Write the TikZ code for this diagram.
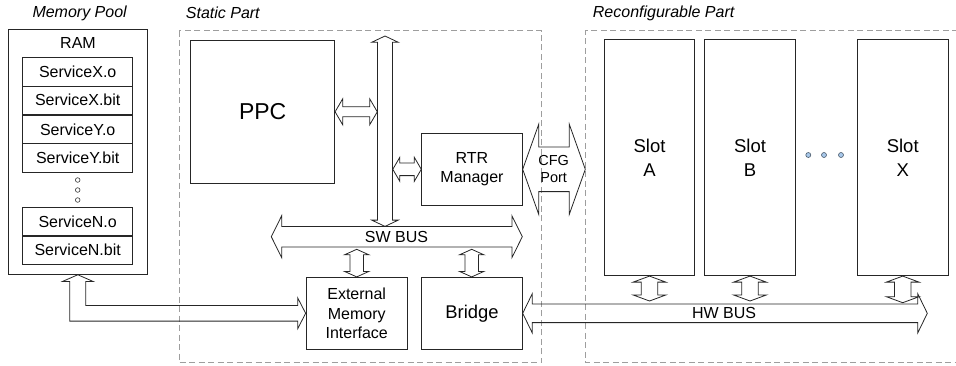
\documentclass[tikz,border=0pt]{standalone}
\usepackage{fontspec}
\setmainfont{Liberation Sans}
\usetikzlibrary{calc}

\definecolor{dotblue}{HTML}{A8C8EA}
\definecolor{dotedge}{HTML}{4A5A6A}

% fat double-headed bus arrows: from, to, half shaft, half head, head length
\newcommand{\hbus}[5]{%
  \draw[bus] let \p1=(#1), \p2=(#2) in
    (\x1,\y1) -- (\x1+#5,\y1+#4) -- (\x1+#5,\y1+#3) -- (\x2-#5,\y1+#3)
    -- (\x2-#5,\y1+#4) -- (\x2,\y1) -- (\x2-#5,\y1-#4) -- (\x2-#5,\y1-#3)
    -- (\x1+#5,\y1-#3) -- (\x1+#5,\y1-#4) -- cycle;}
\newcommand{\vbus}[5]{%
  \draw[bus] let \p1=(#1), \p2=(#2) in
    (\x1,\y1) -- (\x1+#4,\y1-#5) -- (\x1+#3,\y1-#5) -- (\x1+#3,\y2+#5)
    -- (\x1+#4,\y2+#5) -- (\x1,\y2) -- (\x1-#4,\y2+#5) -- (\x1-#3,\y2+#5)
    -- (\x1-#3,\y1-#5) -- (\x1-#4,\y1-#5) -- cycle;}

\begin{document}
\begin{tikzpicture}[x=1pt,y=-1pt,
  every node/.style={align=center,inner sep=0pt,font=\fontsize{16}{19}\selectfont},
  box/.style={draw=black!85,line width=0.8pt},
  row/.style={box,minimum width=110pt,minimum height=28.4pt},
  slot/.style={box,minimum width=90.6pt,minimum height=236.4pt,font=\fontsize{18.5}{23.6}\selectfont},
  part/.style={draw=black!38,line width=0.8pt,dash pattern=on 6pt off 3.5pt},
  partlabel/.style={anchor=west,font=\fontsize{16}{19}\selectfont\itshape},
  bus/.style={draw=black!85,line width=0.8pt},
  ramdot/.style={circle,draw=black!80,fill=white,line width=0.6pt,minimum size=4.6pt},
  slotdot/.style={circle,draw=dotedge,fill=dotblue,line width=0.6pt,minimum size=5pt}]

\useasboundingbox (0,0) rectangle (956,365);

% Part labels and dashed regions
\node[partlabel] (poolLabel) at (32.3,13) {Memory Pool};
\node[partlabel] (staticLabel) at (185.7,13) {Static Part};
\node[partlabel] (reconfLabel) at (592.7,13) {Reconfigurable Part};
\draw[part] (179,30.7) rectangle (541.7,362.7);
\draw[part] (958,30.7) -| (585.7,362.7) -- (958,362.7);

% Memory pool
\node[box,minimum width=139pt,minimum height=245.3pt] (memoryPool) at (77.8,151.7) {};
\node (ram) at (78,43.3) {RAM};
\node[row] (serviceXo) at (77.7,71.8) {ServiceX.o};
\node[row] (serviceXbit) at (77.7,100.1) {ServiceX.bit};
\node[row] (serviceYo) at (77.7,129.5) {ServiceY.o};
\node[row] (serviceYbit) at (77.7,157.8) {ServiceY.bit};
\node[row] (serviceNo) at (77.7,221.8) {ServiceN.o};
\node[row] (serviceNbit) at (77.7,250.0) {ServiceN.bit};
\foreach \y in {180,190,200}
  \node[ramdot] (ramDot\y) at (77.7,\y) {};

% Static part
\node[box,minimum width=144pt,minimum height=143.7pt,font=\fontsize{23}{28}\selectfont] (ppc) at (262.7,111.8) {PPC};
\node[box,minimum width=100.6pt,minimum height=72pt,font=\fontsize{16}{18.3}\selectfont] (rtrManager) at (472,169.3) {RTR\\Manager};
\node[box,minimum width=101.3pt,minimum height=72pt,font=\fontsize{16}{19.5}\selectfont] (extMemInterface) at (356.7,313.3) {External\\Memory\\Interface};
\node[box,minimum width=100.6pt,minimum height=72pt,font=\fontsize{18.4}{22}\selectfont] (bridge) at (472,313.3) {Bridge};
\node (swBusLabel) at (396.5,236.7) {SW BUS};
\node[font=\fontsize{14.5}{16.7}\selectfont] (cfgLabel) at (553.7,169.3) {CFG\\Port};
\coordinate (swBusL) at (271.3,236.7);
\coordinate (swBusR) at (522.3,236.7);
\coordinate (mainBusTop) at (385,36);
\coordinate (mainBusBot) at (385,226.4);
\coordinate (ppcBus) at (377.3,111.8);
\coordinate (rtrBus) at (392.8,169.3);
\coordinate (cfgEnd) at (585.3,169.3);
\coordinate (swEmi) at (356.7,249.3);
\coordinate (swBridge) at (471.7,249.3);

% Reconfigurable part
\node[slot] (slotA) at (649.5,157.5) {Slot\\A};
\node[slot] (slotB) at (750,157.5) {Slot\\B};
\node[slot] (slotX) at (902.7,157.5) {Slot\\X};
\foreach \x in {808.3,824,841}
  \node[slotdot] (slotDot\x) at (\x,155) {};
\node (hwBusLabel) at (724,313.3) {HW BUS};
\coordinate (hwBusR) at (927.3,313.3);
\coordinate (slotAHw) at (649.5,301);
\coordinate (slotBHw) at (750,301);
\coordinate (slotXHw) at (902.7,302.7);

% Buses
\draw[bus] let \p1=(memoryPool.south), \p2=(extMemInterface.west) in
  (\x1,\y1) -- (\x1+15.3pt,\y1-6.7pt) -- (\x1+8pt,\y1-6.7pt) -- (\x1+8pt,\y2+7.8pt)
  -- (\x2-8pt,\y2+7.8pt) -- (\x2-8pt,\y2+15.5pt) -- (\x2,\y2) -- (\x2-8pt,\y2-15.5pt)
  -- (\x2-8pt,\y2-7.8pt) -- (\x1-8pt,\y2-7.8pt) -- (\x1-8pt,\y1-6.7pt)
  -- (\x1-15.3pt,\y1-6.7pt) -- cycle;
\vbus{mainBusTop}{mainBusBot}{7.5pt}{13.3pt}{6.3pt}
\hbus{ppc.east}{ppcBus}{5pt}{13pt}{7.6pt}
\hbus{rtrBus}{rtrManager.west}{6.3pt}{12pt}{7pt}
\hbus{rtrManager.east}{cfgEnd}{22.3pt}{45pt}{16pt}
\hbus{swBusL}{swBusR}{10.3pt}{21pt}{10.4pt}
\vbus{swEmi}{extMemInterface.north}{6.7pt}{12.2pt}{5.5pt}
\vbus{swBridge}{bridge.north}{6.7pt}{12.2pt}{5.5pt}
\hbus{bridge.east}{hwBusR}{9.3pt}{19.5pt}{9.5pt}
\vbus{slotA.south}{slotAHw}{8.3pt}{16.3pt}{6pt}
\vbus{slotB.south}{slotBHw}{8.3pt}{16.3pt}{6pt}
\vbus{slotX.south}{slotXHw}{8.3pt}{16.3pt}{6pt}

\end{tikzpicture}
\end{document}
